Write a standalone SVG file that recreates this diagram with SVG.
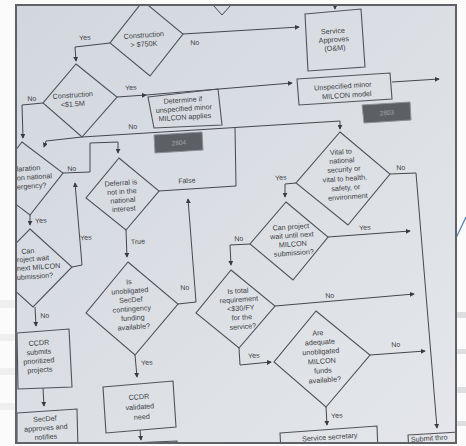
<svg xmlns="http://www.w3.org/2000/svg" width="466" height="446" viewBox="0 0 466 446">
<defs>
<linearGradient id="pg" x1="0" y1="0" x2="1" y2="1">
<stop offset="0" stop-color="#d2d7de"/>
<stop offset="0.5" stop-color="#dbdfe4"/>
<stop offset="1" stop-color="#e4e6ea"/>
</linearGradient>
<clipPath id="page"><rect x="17" y="6" width="438" height="436"/></clipPath>
<marker id="ah" viewBox="0 0 6 6" refX="5" refY="3" markerWidth="5" markerHeight="5" orient="auto"><path d="M0,0 L6,3 L0,6 z" fill="#3a3c40"/></marker>
<style>
.sh{fill:none;stroke:#505257;stroke-width:1.1;stroke-linejoin:miter}
.gb{fill:#5c5f64;stroke:#8d9095;stroke-width:1}
.ln{fill:none;stroke:#45474b;stroke-width:1}
.ar{marker-end:url(#ah)}
.t{font-family:"Liberation Sans",Arial,sans-serif;font-size:7.2px;fill:#3e4145;text-anchor:middle}
.ts{font-family:"Liberation Sans",Arial,sans-serif;font-size:7.2px;fill:#3e4145;text-anchor:start}
.lb{font-family:"Liberation Sans",Arial,sans-serif;font-size:7px;fill:#3e4145;text-anchor:middle}
.gt{font-family:"Liberation Sans",Arial,sans-serif;font-size:6.5px;fill:#a3a6ab;text-anchor:middle}
</style>
</defs>
<rect x="0" y="0" width="466" height="446" fill="#fbfbfb"/>
<g id="outside">
<rect x="457" y="312" width="9" height="6" fill="#dedfe0"/>
<rect x="457" y="349" width="9" height="5" fill="#dedfe0"/>
<rect x="457" y="387" width="9" height="6" fill="#dedfe0"/>
<rect x="457" y="421" width="9" height="5" fill="#dedfe0"/>
<rect x="0" y="300" width="15" height="8" fill="#efeff0"/>
<rect x="0" y="334" width="15" height="7" fill="#efeff0"/>
<rect x="0" y="368" width="15" height="7" fill="#efeff0"/>
<rect x="0" y="403" width="15" height="7" fill="#efeff0"/>
<path d="M456,238 L466,217" fill="none" stroke="#4f7fa8" stroke-width="1.2"/>
</g>
<rect x="16" y="5" width="440" height="438" fill="url(#pg)" stroke="#606267" stroke-width="2"/>
<g clip-path="url(#page)">
<g id="connectors">
<path class="ln ar" d="M110,43 L75,47 L76,61"/>
<path class="ln ar" d="M183,34 L299,27"/>
<path class="ln ar" d="M335,0 L335,9"/>
<path class="ln" d="M213,5 L222,15 L231,5"/>
<path class="ln ar" d="M117,97 L146,95"/>
<path class="ln ar" d="M146,95 L292,83"/>
<path class="ln ar" d="M392,82 L439,79"/>
<path class="ln ar" d="M43,103 L22,105 L23,138"/>
<path class="ln ar" d="M82,137 L340,121 L340,129"/>
<path class="ln ar" d="M82,137 L46,141 L44,147"/>
<path class="ln ar" d="M63,173 L90,172 L90,143 L118,142 L118,153"/>
<path class="ln ar" d="M30,215 L30,225"/>
<path class="ln ar" d="M72,267 L82,265 L75,183"/>
<path class="ln ar" d="M35,307 L36,326"/>
<path class="ln ar" d="M43,388 L44,406"/>
<path class="ln" d="M159,191 L236,186 L235,128"/>
<path class="ln ar" d="M126,230 L127,257"/>
<path class="ln ar" d="M178,304 L196,302 L188,199"/>
<path class="ln ar" d="M135,355 L137,377"/>
<path class="ln ar" d="M140,430 L141,440"/>
<path class="ln ar" d="M390,174 L416,173 L437,428"/>
<path class="ln ar" d="M296,183 L285,184 L285,197"/>
<path class="ln ar" d="M328,237 L410,231"/>
<path class="ln ar" d="M250,244 L230,245 L231,265"/>
<path class="ln ar" d="M275,306 L414,294"/>
<path class="ln ar" d="M239,348 L240,365 L271,362"/>
<path class="ln ar" d="M370,355 L425,351"/>
<path class="ln ar" d="M326,407 L327,425"/>
<text class="lb" x="85" y="40" transform="rotate(-4 85 40)">Yes</text>
<text class="lb" x="195" y="45" transform="rotate(-4 195 45)">No</text>
<text class="lb" x="131" y="90" transform="rotate(-4 131 90)">Yes</text>
<text class="lb" x="32" y="101" transform="rotate(-4 32 101)">No</text>
<text class="lb" x="133" y="129" transform="rotate(-4 133 129)">No</text>
<text class="lb" x="72" y="171" transform="rotate(-4 72 171)">No</text>
<text class="lb" x="41" y="223" transform="rotate(-4 41 223)">Yes</text>
<text class="lb" x="86" y="240" transform="rotate(-4 86 240)">Yes</text>
<text class="lb" x="45" y="318" transform="rotate(-4 45 318)">No</text>
<text class="lb" x="187" y="183" transform="rotate(-4 187 183)">False</text>
<text class="lb" x="138" y="244" transform="rotate(-4 138 244)">True</text>
<text class="lb" x="185" y="290" transform="rotate(-4 185 290)">No</text>
<text class="lb" x="147" y="365" transform="rotate(-4 147 365)">Yes</text>
<text class="lb" x="401" y="170" transform="rotate(-4 401 170)">No</text>
<text class="lb" x="281" y="180" transform="rotate(-4 281 180)">Yes</text>
<text class="lb" x="365" y="230" transform="rotate(-4 365 230)">Yes</text>
<text class="lb" x="239" y="241" transform="rotate(-4 239 241)">No</text>
<text class="lb" x="330" y="298" transform="rotate(-4 330 298)">No</text>
<text class="lb" x="254" y="358" transform="rotate(-4 254 358)">Yes</text>
<text class="lb" x="396" y="347" transform="rotate(-4 396 347)">No</text>
<text class="lb" x="337" y="418" transform="rotate(-4 337 418)">Yes</text>
</g>
<g id="n-construction-750k">
<polygon class="sh" points="143,1 183,34 150,76 110,43"/>
<text class="t" x="144" y="37.5" transform="rotate(-4 144 37.5)">Construction</text>
<text class="t" x="144" y="46.5" transform="rotate(-4 144 46.5)">&gt; $750K</text>
</g>
<g id="n-service-approves">
<polygon class="sh" points="305,14 361,9 365,67 308,71"/>
<text class="t" x="333" y="33.5" transform="rotate(-4 333 33.5)">Service</text>
<text class="t" x="334" y="42" transform="rotate(-4 334 42)">Approves</text>
<text class="t" x="335" y="50.5" transform="rotate(-4 335 50.5)">(O&amp;M)</text>
</g>
<g id="n-construction-15m">
<polygon class="sh" points="76,64 117,97 82,137 43,103"/>
<text class="t" x="73" y="97.5" transform="rotate(-4 73 97.5)">Construction</text>
<text class="t" x="73" y="106.5" transform="rotate(-4 73 106.5)">&lt;$1.5M</text>
</g>
<g id="n-determine">
<polygon class="sh" points="148,97 218,89 222,125 154,128"/>
<text class="t" x="183" y="102.5" transform="rotate(-4 183 102.5)">Determine if</text>
<text class="t" x="184" y="111" transform="rotate(-4 184 111)">unspecified minor</text>
<text class="t" x="185" y="119.5" transform="rotate(-4 185 119.5)">MILCON applies</text>
</g>
<g id="n-gray-1">
<polygon class="gb" points="154,135 202,132 203,150 155,153"/>
<text class="gt" x="179" y="145" transform="rotate(-4 179 145)">2804</text>
</g>
<g id="n-unspecified-model">
<polygon class="sh" points="297,79 390,73 392,99 299,105"/>
<text class="t" x="343" y="88.5" transform="rotate(-4 343 88.5)">Unspecified minor</text>
<text class="t" x="347" y="97.5" transform="rotate(-4 347 97.5)">MILCON model</text>
</g>
<g id="n-gray-2">
<polygon class="gb" points="362,105 410,102 411,120 364,123"/>
<text class="gt" x="387" y="115" transform="rotate(-4 387 115)">2803</text>
</g>
<g id="n-declaration">
<polygon class="sh" points="22,142 63,173 30,215 -11,184"/>
<text class="ts" x="17" y="171.5" transform="rotate(-4 17 171.5)">laration</text>
<text class="ts" x="17" y="180.5" transform="rotate(-4 17 180.5)">on national</text>
<text class="ts" x="17" y="189.5" transform="rotate(-4 17 189.5)">ergency?</text>
</g>
<g id="n-can-wait-left">
<polygon class="sh" points="30,229 72,267 33,307 -9,269"/>
<text class="t" x="28" y="253.5" transform="rotate(-4 28 253.5)">Can</text>
<text class="ts" x="17" y="262.3" transform="rotate(-4 17 262.3)">roject wait</text>
<text class="ts" x="17" y="271" transform="rotate(-4 17 271)">next MILCON</text>
<text class="ts" x="17" y="280" transform="rotate(-4 17 280)">ubmission?</text>
</g>
<g id="n-ccdr-submits">
<polygon class="sh" points="17,333 69,329 72,387 18,389"/>
<text class="t" x="39" y="345.3" transform="rotate(-4 39 345.3)">CCDR</text>
<text class="t" x="39" y="354.3" transform="rotate(-4 39 354.3)">submits</text>
<text class="t" x="39" y="363.3" transform="rotate(-4 39 363.3)">prioritized</text>
<text class="t" x="40" y="372.3" transform="rotate(-4 40 372.3)">projects</text>
</g>
<g id="n-secdef-approves">
<polygon class="sh" points="17,413 77,409 78,450 17,450"/>
<text class="t" x="45" y="421.3" transform="rotate(-4 45 421.3)">SecDef</text>
<text class="t" x="46" y="430.3" transform="rotate(-4 46 430.3)">approves and</text>
<text class="t" x="46" y="439.3" transform="rotate(-4 46 439.3)">notifies</text>
</g>
<g id="n-deferral">
<polygon class="sh" points="119,158 159,191 126,230 86,198"/>
<text class="t" x="121" y="185.3" transform="rotate(-4 121 185.3)">Deferral is</text>
<text class="t" x="122" y="194" transform="rotate(-4 122 194)">not in the</text>
<text class="t" x="123" y="202.6" transform="rotate(-4 123 202.6)">national</text>
<text class="t" x="124" y="211.3" transform="rotate(-4 124 211.3)">interest</text>
</g>
<g id="n-secdef-funding">
<polygon class="sh" points="128,262 178,304 135,355 86,313"/>
<text class="t" x="129" y="284.3" transform="rotate(-4 129 284.3)">Is</text>
<text class="t" x="130" y="293.3" transform="rotate(-4 130 293.3)">unobligated</text>
<text class="t" x="131" y="302.3" transform="rotate(-4 131 302.3)">SecDef</text>
<text class="t" x="132" y="311.3" transform="rotate(-4 132 311.3)">contingency</text>
<text class="t" x="133" y="320.3" transform="rotate(-4 133 320.3)">funding</text>
<text class="t" x="134" y="329.3" transform="rotate(-4 134 329.3)">available?</text>
</g>
<g id="n-ccdr-validated">
<polygon class="sh" points="103,387 173,381 176,427 106,433"/>
<text class="t" x="139" y="399.3" transform="rotate(-4 139 399.3)">CCDR</text>
<text class="t" x="140" y="409.3" transform="rotate(-4 140 409.3)">validated</text>
<text class="t" x="142" y="419.3" transform="rotate(-4 142 419.3)">need</text>
</g>
<g id="n-next-box">
<path class="sh" d="M108,444 L177,441 L178,452"/>
</g>
<g id="n-vital">
<polygon class="sh" points="340,132 390,174 348,225 296,183"/>
<text class="t" x="341" y="154.3" transform="rotate(-4 341 154.3)">Vital to</text>
<text class="t" x="342" y="163" transform="rotate(-4 342 163)">national</text>
<text class="t" x="344" y="171.8" transform="rotate(-4 344 171.8)">security or</text>
<text class="t" x="345" y="181" transform="rotate(-4 345 181)">vital to health,</text>
<text class="t" x="346" y="190.2" transform="rotate(-4 346 190.2)">safety, or</text>
<text class="t" x="348" y="199.3" transform="rotate(-4 348 199.3)">environment</text>
</g>
<g id="n-can-wait-right">
<polygon class="sh" points="286,202 328,237 293,280 250,244"/>
<text class="t" x="291" y="229.3" transform="rotate(-4 291 229.3)">Can project</text>
<text class="t" x="292" y="237.8" transform="rotate(-4 292 237.8)">wait until next</text>
<text class="t" x="293" y="246.5" transform="rotate(-4 293 246.5)">MILCON</text>
<text class="t" x="294" y="255.3" transform="rotate(-4 294 255.3)">submission?</text>
</g>
<g id="n-total-requirement">
<polygon class="sh" points="231,270 275,306 239,348 196,313"/>
<text class="t" x="238" y="293.3" transform="rotate(-4 238 293.3)">Is total</text>
<text class="t" x="239" y="302" transform="rotate(-4 239 302)">requirement</text>
<text class="t" x="241" y="310.6" transform="rotate(-4 241 310.6)">&lt;$30/FY</text>
<text class="t" x="242" y="319.8" transform="rotate(-4 242 319.8)">for the</text>
<text class="t" x="243" y="329" transform="rotate(-4 243 329)">service?</text>
</g>
<g id="n-milcon-funds">
<polygon class="sh" points="316,311 370,355 326,407 274,362"/>
<text class="t" x="318" y="335.3" transform="rotate(-4 318 335.3)">Are</text>
<text class="t" x="320" y="344.5" transform="rotate(-4 320 344.5)">adequate</text>
<text class="t" x="321" y="354" transform="rotate(-4 321 354)">unobligated</text>
<text class="t" x="322" y="363.6" transform="rotate(-4 322 363.6)">MILCON</text>
<text class="t" x="323" y="373" transform="rotate(-4 323 373)">funds</text>
<text class="t" x="325" y="382.3" transform="rotate(-4 325 382.3)">available?</text>
</g>
<g id="n-service-secretary">
<polygon class="sh" points="280,433 377,426 378,452 281,452"/>
<text class="t" x="330" y="439.5" transform="rotate(-4 330 439.5)">Service secretary</text>
</g>
<g id="n-submit">
<polygon class="sh" points="408,435 460,432 461,452 409,452"/>
<text class="ts" x="411" y="442" transform="rotate(-4 411 442)">Submit thro</text>
</g>
</g>
<rect x="16" y="5" width="440" height="438" fill="none" stroke="#606267" stroke-width="2"/>
</svg>
